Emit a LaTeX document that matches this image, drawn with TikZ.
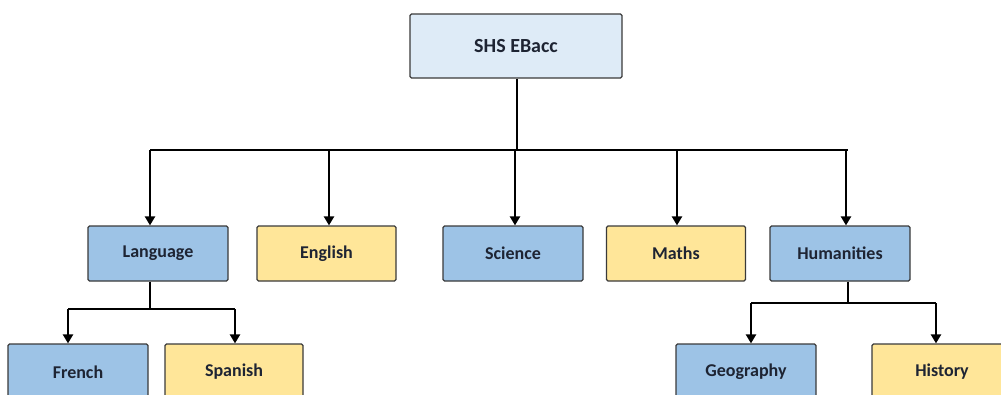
\documentclass[tikz,border=0pt]{standalone}
\usepackage{fontspec}
\setmainfont{Carlito}
\usetikzlibrary{arrows.meta}
\definecolor{bluebox}{HTML}{9DC3E6}
\definecolor{yellowbox}{HTML}{FFE699}
\definecolor{topbox}{HTML}{DEEBF7}
\definecolor{edge}{HTML}{3A3A3A}
\definecolor{txt}{HTML}{1E2433}
\begin{document}
\begin{tikzpicture}[x=1pt,y=-1pt,
  box/.style={draw=edge,line width=1.2pt,rounded corners=1.5pt,minimum width=140pt,minimum height=55pt,inner sep=0pt,text=txt,font=\fontsize{18}{21}\selectfont\bfseries},
  blue/.style={box,fill=bluebox},
  yellow/.style={box,fill=yellowbox},
  conn/.style={line width=2.9pt,black},
  arr/.style={conn,-{Triangle[width=10pt,length=9pt]}}]
\useasboundingbox (0,0) rectangle (1001,394);
\clip (0,0) rectangle (1001,394);
\node[box,fill=topbox,minimum width=212pt,minimum height=64pt,font=\fontsize{20}{23}\selectfont\bfseries] (top) at (516,46) {SHS EBacc};
\node[blue] (lang) at (158,253.5) {Language};
\node[yellow,minimum width=139pt] (eng) at (326.5,253.5) {English};
\node[blue] (sci) at (513,253.5) {Science};
\node[yellow,minimum width=139pt] (math) at (676,253.5) {Maths};
\node[blue] (hum) at (840,253.5) {Humanities};
\node[blue,minimum height=56pt] (fr) at (78,372) {French};
\node[yellow,minimum width=138pt,minimum height=56pt] (sp) at (234,372) {Spanish};
\node[blue,minimum height=56pt] (geo) at (746,372) {Geography};
\node[yellow,minimum height=56pt] (hist) at (942,372) {History};
\coordinate (bar) at (0,150);
\coordinate (lbar) at (0,309);
\coordinate (hbar) at (0,303);
% top level
\draw[conn] ([xshift=1pt]top.south) -- ([xshift=1pt]top.south |- bar);
\draw[conn] ([xshift=-8pt]lang.north |- bar) -- ([xshift=8pt]hum.north |- bar);
\draw[arr] ([xshift=-8pt]lang.north |- bar) -- ([xshift=-8pt]lang.north);
\draw[arr] ([xshift=2.5pt]eng.north |- bar) -- ([xshift=2.5pt]eng.north);
\draw[arr] ([xshift=2pt]sci.north |- bar) -- ([xshift=2pt]sci.north);
\draw[arr] ([xshift=1pt]math.north |- bar) -- ([xshift=1pt]math.north);
\draw[arr] ([xshift=6pt]hum.north |- bar) -- ([xshift=6pt]hum.north);
% language
\draw[conn] ([xshift=-8pt]lang.south) -- ([xshift=-8pt]lang.south |- lbar);
\draw[conn] ([xshift=-10pt]fr.north |- lbar) -- ([xshift=1pt]sp.north |- lbar);
\draw[arr] ([xshift=-10pt]fr.north |- lbar) -- ([xshift=-10pt]fr.north);
\draw[arr] ([xshift=1pt]sp.north |- lbar) -- ([xshift=1pt]sp.north);
% humanities
\draw[conn] ([xshift=8pt]hum.south) -- ([xshift=8pt]hum.south |- hbar);
\draw[conn] ([xshift=5pt]geo.north |- hbar) -- ([xshift=-6pt]hist.north |- hbar);
\draw[arr] ([xshift=5pt]geo.north |- hbar) -- ([xshift=5pt]geo.north);
\draw[arr] ([xshift=-6pt]hist.north |- hbar) -- ([xshift=-6pt]hist.north);
\end{tikzpicture}
\end{document}
